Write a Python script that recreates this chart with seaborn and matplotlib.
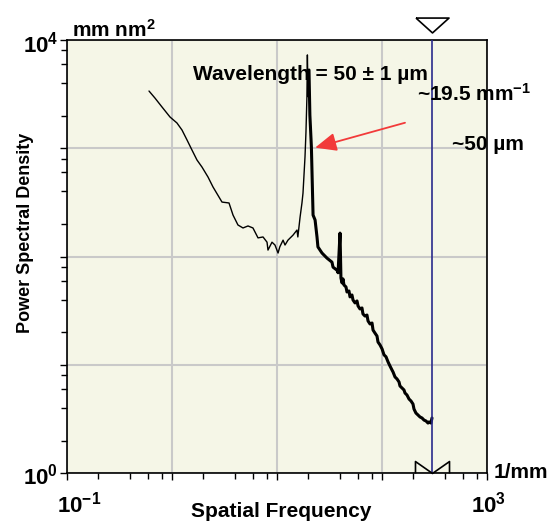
import matplotlib
matplotlib.use("Agg")
import matplotlib.pyplot as plt
from matplotlib.ticker import LogLocator, NullFormatter
import pandas as pd
import seaborn as sns

# Power spectral density of the surface profile (mm nm^2) vs spatial frequency (1/mm)
freq = [0.608, 0.693, 0.809, 0.964, 1.122, 1.253, 1.400, 1.560, 1.741, 1.944,
        2.218, 2.473, 3.013, 3.514, 3.837, 4.276, 4.775, 5.33, 5.94, 6.64,
        7.41, 8.09, 8.26, 9.02, 9.63, 10.3, 10.7, 11.5, 12.0, 12.8,
        14.3, 15.6, 15.9, 16.7, 17.4, 17.8, 18.6, 19.0, 19.4, 19.6,
        19.9, 20.3, 20.7, 21.4, 21.7, 22.2, 23.2, 24.2, 24.7, 27.0,
        30.1, 33.6, 34.4, 37.5, 38.4, 40.1, 40.9, 41.9, 42.8, 43.7,
        45.7, 46.7, 48.8, 49.9, 52.1, 53.3, 55.7, 58.2, 59.5, 62.1,
        64.9, 66.3, 69.3, 72.4, 74.1, 77.4, 80.9, 82.7, 86.3, 90.2,
        92.2, 96.4, 100.7, 105.2, 109.9, 114.8, 119.9, 125.3, 128.2, 133.9,
        139.9, 146.2, 149.3, 156.1, 163.0, 166.7, 174.1, 182.0, 190.1, 198.6,
        203.0, 211.8, 221.8, 231.7, 242.1, 252.9, 264.2, 276.1, 281.8, 294.4,
        301.3]
psd = [3380, 2910, 2405, 1945, 1714, 1476, 1193, 964, 780, 671,
       543, 440, 319, 313, 242, 196, 184, 192, 184, 149,
       152, 136, 115, 136, 128, 108, 123, 142, 128, 142,
       158, 176, 152, 232, 313, 386, 832, 1415, 2977, 7280,
       3000, 5285, 2030, 1028, 592, 242, 218, 152, 123, 108,
       97, 89, 80, 75, 71, 165, 63.6, 57.2, 62.3, 54.8,
       52.5, 47.2, 48.2, 42.5, 44.3, 39.8, 37.4, 39.0, 35.1, 32.9,
       33.6, 29.6, 28.3, 28.9, 25.5, 23.9, 24.4, 21.0, 19.7, 18.5,
       16.3, 15.3, 14.1, 12.4, 11.9, 10.7, 9.79, 8.99, 8.62, 7.75,
       7.43, 6.97, 6.40, 6.13, 5.88, 5.51, 5.28, 4.85, 4.65, 4.36,
       3.92, 3.60, 3.45, 3.31, 3.24, 3.10, 3.04, 2.91, 2.98, 2.91,
       3.24]

cutoff_freq = 300.0          # evaluation limit (1/mm)
arrow_tip = (23.2, 1014)     # arrow pointing at the peak
arrow_tail = (166.7, 1722)

x_ticks = [0.1, 1, 10, 100, 1000]
y_ticks = [1, 10, 100, 1000, 10000]
x_end_labels = [r"$10^{-1}$", r"$10^{3}$"]
y_end_labels = [r"$10^{0}$", r"$10^{4}$"]

df = pd.DataFrame({"freq": freq, "psd": psd})

sns.set_theme(style="white")
FONT = "Liberation Sans"
plt.rcParams["font.family"] = [FONT, "DejaVu Sans"]
plt.rcParams["font.weight"] = "bold"
plt.rcParams["text.color"] = "black"
plt.rcParams["xtick.color"] = "black"
plt.rcParams["ytick.color"] = "black"
plt.rcParams["mathtext.fontset"] = "custom"
for key in ("rm", "bf", "it", "sf"):
    plt.rcParams["mathtext." + key] = FONT + ":bold"

W, H = 552, 527
fig = plt.figure(figsize=(W / 100, H / 100), dpi=100)
ax = fig.add_axes([66.7 / W, 1 - 473.3 / H, 420 / W, 433.3 / H])
ax.set_facecolor("#f5f6e7")
ax.set_xscale("log")
ax.set_yscale("log")
ax.set_xlim(0.1, 1000)
ax.set_ylim(1, 1e4)

ax.grid(True, which="major", color="#c9c9c9", lw=1.5)
ax.set_axisbelow(True)

sns.lineplot(data=df, x="freq", y="psd", ax=ax, color="black", lw=1.0,
             estimator=None, sort=False)
sns.lineplot(data=df[df["freq"] >= 20], x="freq", y="psd", ax=ax, color="black",
             lw=2.2, estimator=None, sort=False)

ax.axvline(cutoff_freq, color="#2a2a8c", lw=1.2, zorder=3)

# open markers above and below the cut-off line
xt = ax.get_xaxis_transform()
tri = [(-1, 0.45), (1, 0.45), (0, -0.45), (-1, 0.45)]
ax.plot([cutoff_freq], [1.0335], transform=xt, marker=tri, ms=23.8,
        mfc="white", mec="black", mew=1.2, clip_on=False, ls="none")
bow = [(-1, -0.35), (-1, 0.35), (0, -0.35), (1, 0.35), (1, -0.35)]
ax.plot([cutoff_freq], [0.0138], transform=xt, marker=bow, ms=24.5,
        mfc="none", mec="black", mew=1.2, clip_on=False, ls="none", zorder=5)

ax.annotate("", xy=arrow_tip, xytext=arrow_tail,
            arrowprops=dict(arrowstyle="-|>,head_length=0.65,head_width=0.28",
                            color="#f23a3a", lw=1.3, mutation_scale=20,
                            shrinkA=0, shrinkB=0))

ax.set_xticks(x_ticks)
ax.set_yticks(y_ticks)
ax.set_xticklabels([])
ax.set_yticklabels([])
ax.xaxis.set_minor_locator(LogLocator(base=10, subs=[2, 4, 6, 8]))
ax.yaxis.set_minor_locator(LogLocator(base=10, subs=[2, 4, 6, 8]))
ax.xaxis.set_minor_formatter(NullFormatter())
ax.yaxis.set_minor_formatter(NullFormatter())
ax.tick_params(which="both", direction="out", bottom=True, left=True,
               top=False, right=False, color="black", width=1.0)
ax.tick_params(which="major", length=5)
ax.tick_params(which="minor", length=4)
ax.set_xlabel("")
ax.set_ylabel("")
for s in ax.spines.values():
    s.set_color("black")
    s.set_linewidth(1.2)


def ftext(px, py, s, **kw):
    fig.text(px / W, 1 - py / H, s, **kw)


# decade labels at the ends of both axes
ftext(57, 513, x_end_labels[0], fontsize=16, ha="left", va="baseline")
ftext(471, 513, x_end_labels[1], fontsize=16, ha="left", va="baseline")
ftext(58, 485, y_end_labels[0], fontsize=16, ha="right", va="baseline")
ftext(58, 53, y_end_labels[1], fontsize=16, ha="right", va="baseline")

ftext(72, 37, r"mm nm$^{2}$", fontsize=15, ha="left", va="baseline")
ftext(193, 80, "Wavelength = 50 \u00b1 1 \u00b5m", fontsize=15, ha="left", va="baseline")
ftext(417, 101, r"~19.5 mm$^{-1}$", fontsize=15, ha="left", va="baseline")
ftext(452, 150, "~50 \u00b5m", fontsize=15, ha="left", va="baseline")
ftext(494, 478, "1/mm", fontsize=15, ha="left", va="baseline")
ftext(281, 517, "Spatial Frequency", fontsize=15, ha="center", va="baseline")
ftext(26, 233, "Power Spectral Density", fontsize=13, ha="center", va="center",
      rotation=90)

fig.savefig("out.png", dpi=100)
